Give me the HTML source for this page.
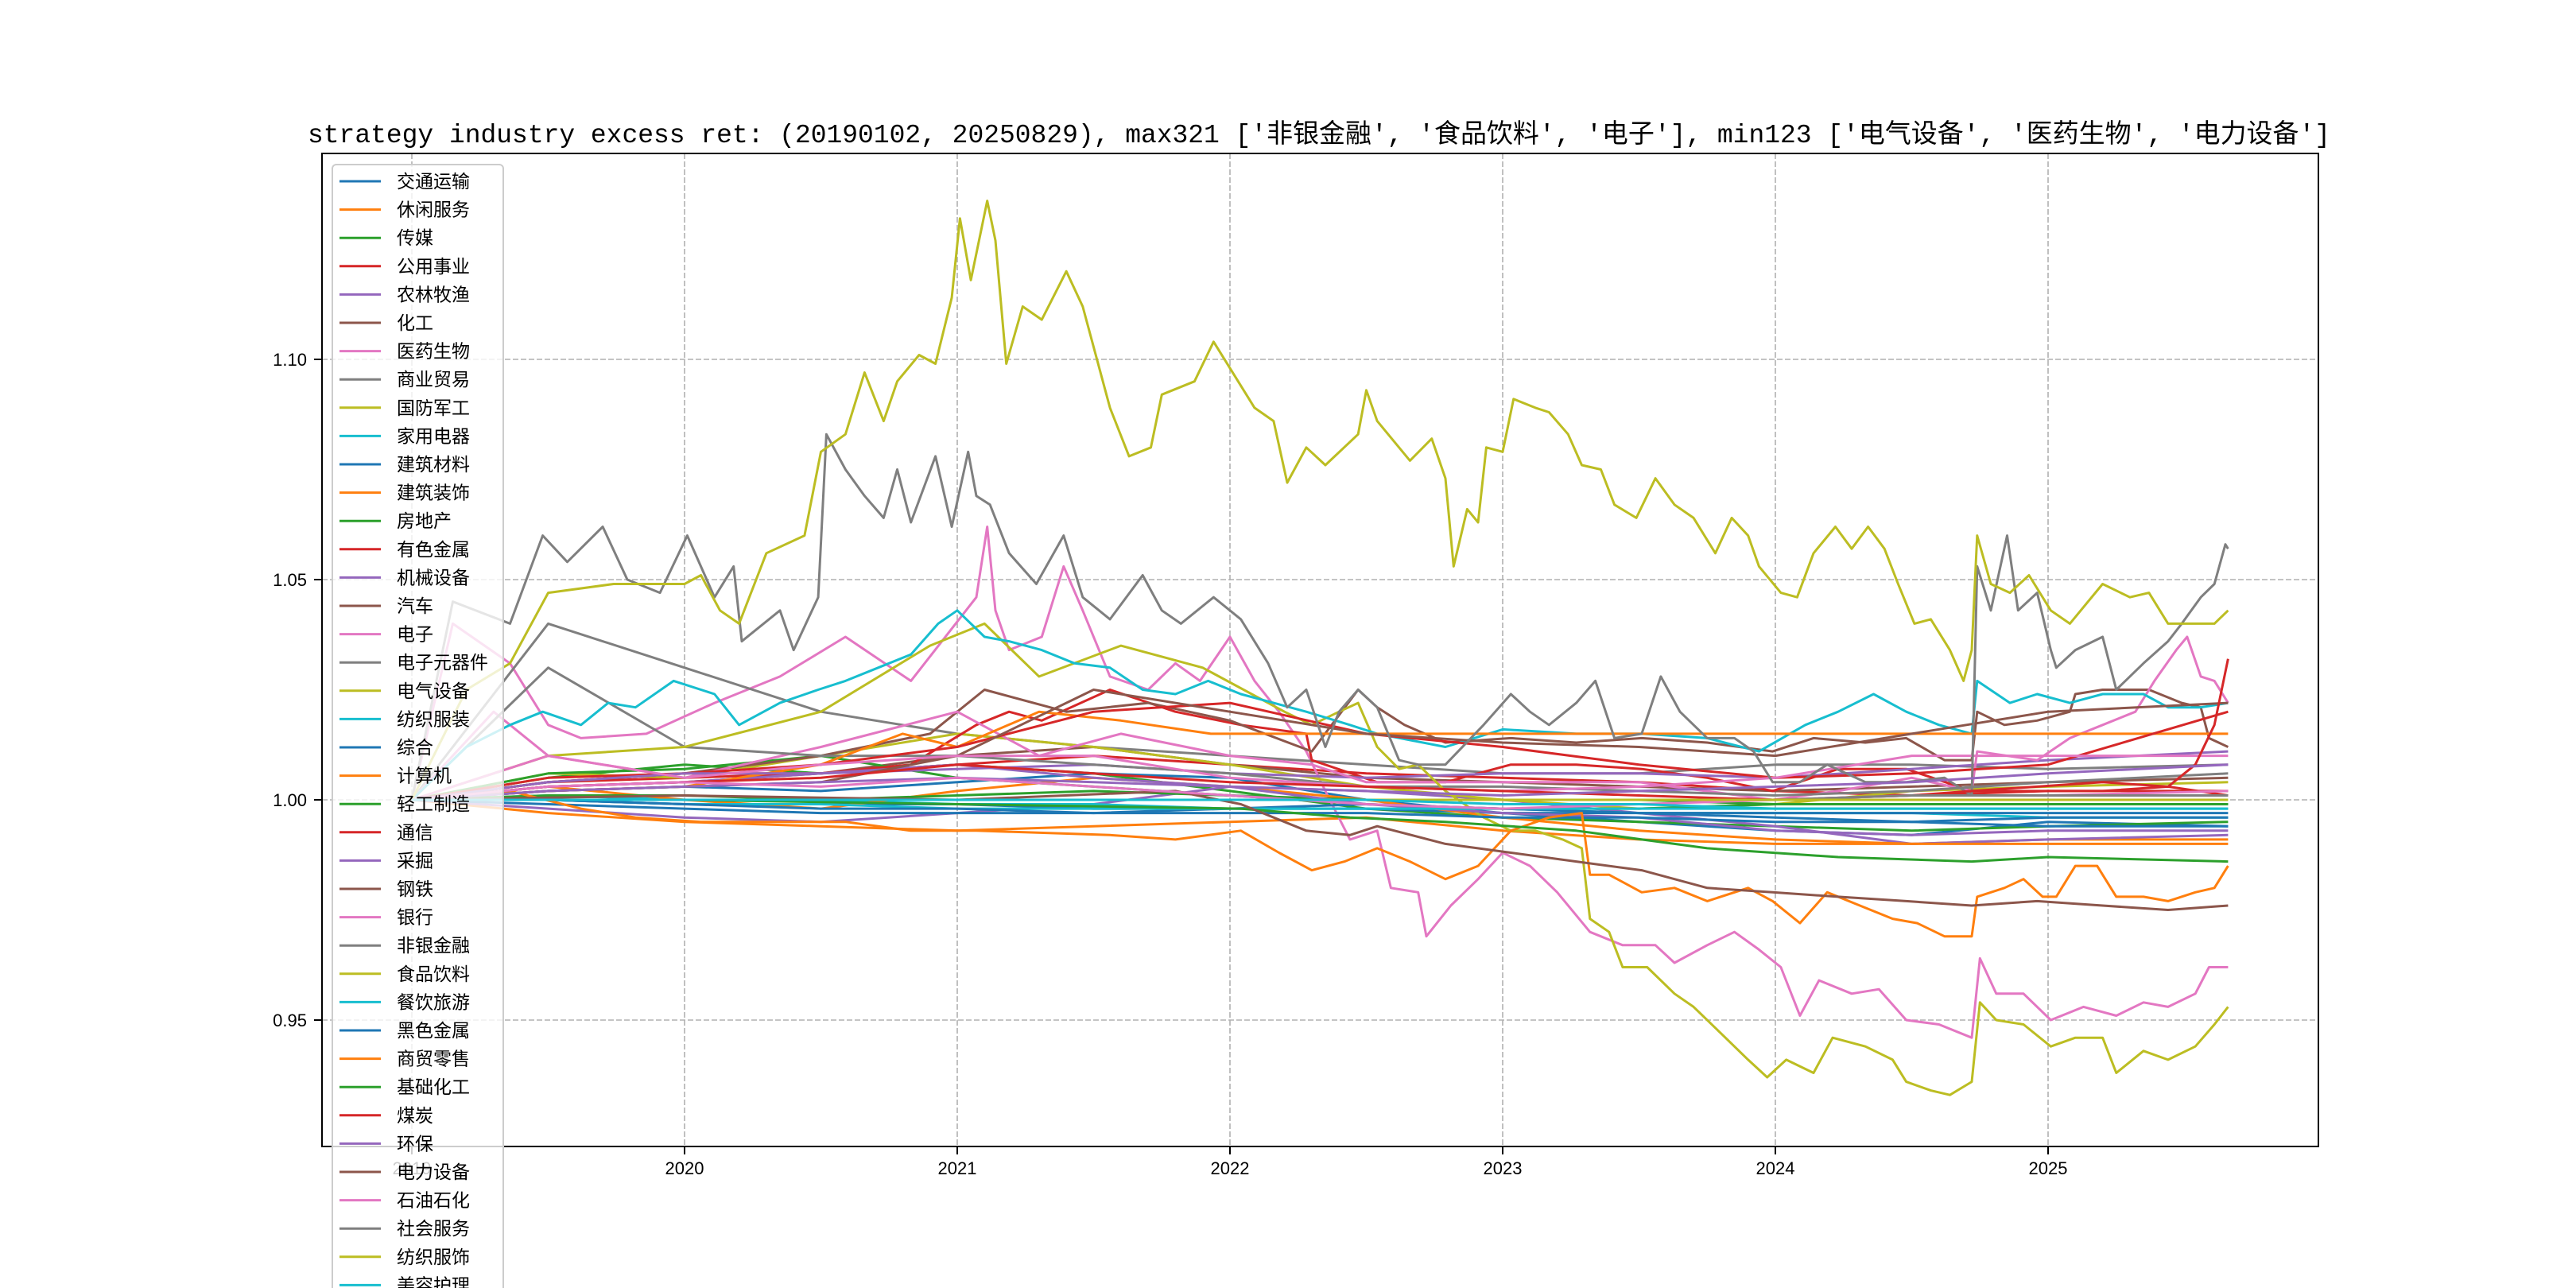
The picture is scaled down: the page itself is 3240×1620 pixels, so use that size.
<!DOCTYPE html>
<html><head><meta charset="utf-8">
<style>
html,body{margin:0;padding:0;background:#fff;}
svg{display:block;}
</style></head>
<body>
<svg id="chart" width="3240" height="1620" viewBox="0 0 3240 1620" xmlns="http://www.w3.org/2000/svg">
<defs><clipPath id="plotclip"><rect x="405" y="193" width="2511" height="1249"/></clipPath></defs>
<rect x="0" y="0" width="3240" height="1620" fill="#fff"/>
<text x="1659" y="179" text-anchor="middle" font-size="33" textLength="2544" lengthAdjust="spacingAndGlyphs" font-family="'Liberation Mono','Noto Sans CJK SC',monospace" fill="#000">strategy industry excess ret: (20190102, 20250829), max321 ['非银金融', '食品饮料', '电子'], min123 ['电气设备', '医药生物', '电力设备']</text>
<g id="grid"></g>
<g id="series" clip-path="url(#plotclip)"></g>
<rect x="405" y="193" width="2511" height="1249" fill="none" stroke="#000" stroke-width="2"/>
<g id="ticks"></g>
<g id="legend"></g>
</svg>
<script>
const names = ['交通运输','休闲服务','传媒','公用事业','农林牧渔','化工','医药生物','商业贸易','国防军工','家用电器','建筑材料','建筑装饰','房地产','有色金属','机械设备','汽车','电子','电子元器件','电气设备','纺织服装','综合','计算机','轻工制造','通信','采掘','钢铁','银行','非银金融','食品饮料','餐饮旅游','黑色金属','商贸零售','基础化工','煤炭','环保','电力设备','石油石化','社会服务','纺织服饰','美容护理'];
const xTickYears = [2019,2020,2021,2022,2023,2024,2025];
const xTickLabels = ['2019','2020','2021','2022','2023','2024','2025'];
const yTickValues = [0.95,1.00,1.05,1.10];
const yTickLabels = ['0.95','1.00','1.05','1.10'];
const gridYears = [2019.0,2019.5,2020,2020.5,2021,2021.5,2022,2022.5,2023,2023.5,2024,2024.5,2025,2025.66];
const minorValues = {
0:[1,1.002,1.003,1.002,1.004,1.006,1.005,1.0,0.997,0.995,0.993,0.992,0.995,0.994],
1:[1,0.997,0.995,0.994,0.993,0.994,0.995,0.996,0.993,0.991,0.990,0.990,0.991,0.991],
2:[1,1.005,1.008,1.006,1.008,1.006,1.002,0.998,0.996,0.995,0.994,0.993,0.994,0.995],
3:[1,1.004,1.005,1.006,1.008,1.01,1.008,1.006,1.005,1.004,1.002,1.001,1.002,1.002],
4:[1,0.998,0.996,0.995,0.997,0.999,1.003,1.002,1.0,0.997,0.994,0.990,0.991,0.992],
5:[1,1.003,1.004,1.006,1.01,1.012,1.008,1.005,1.004,1.003,1.002,1.003,1.004,1.005],
7:[1,1.04,1.03,1.02,1.015,1.012,1.01,1.008,1.006,1.006,1.008,1.008,1.007,1.008],
8:[1,1.006,1.005,1.01,1.015,1.012,1.008,1.003,1.0,0.998,0.999,1.002,1.003,1.004],
9:[1,1.001,1.0,1.0,0.999,0.999,0.998,0.998,0.998,0.997,0.997,0.997,0.996,0.996],
10:[1,1.0,0.999,0.999,0.999,0.998,0.998,0.998,0.997,0.997,0.997,0.997,0.997,0.997],
11:[1,1.003,1.0,0.998,1.002,1.005,1.003,1.0,0.996,0.993,0.991,0.990,0.990,0.990],
12:[1,1.006,1.007,1.01,1.005,1.003,1.001,0.999,0.998,0.998,0.999,0.999,0.999,0.999],
14:[1,1.003,1.004,1.006,1.007,1.008,1.006,1.005,1.006,1.006,1.005,1.007,1.009,1.011],
17:[1,1.03,1.012,1.01,1.01,1.008,1.006,1.003,1.003,1.002,1.001,1.002,1.004,1.006],
20:[1,0.999,0.998,0.997,0.997,0.997,0.998,0.999,0.998,0.997,0.996,0.995,0.994,0.994],
22:[1,1.001,1.001,1.0,1.001,1.002,1.001,1.0,1.0,1.0,0.999,0.999,0.999,0.999],
23:[1,1.005,1.006,1.008,1.012,1.02,1.022,1.015,1.012,1.008,1.005,1.006,1.008,1.02],
24:[1,1.004,1.006,1.006,1.008,1.005,1.003,0.999,0.997,0.996,0.993,0.992,0.993,0.993],
25:[1,1.002,1.003,1.004,1.01,1.025,1.02,1.015,1.013,1.012,1.01,1.015,1.02,1.022],
26:[1,1.01,1.005,1.008,1.01,1.01,1.005,1.003,1.002,1.003,1.005,1.01,1.01,1.01],
29:[1,1.0,0.999,0.999,0.998,0.998,0.998,0.998,0.998,0.998,0.998,0.998,0.998,0.998],
30:[1,1.0,0.999,0.998,0.998,0.997,0.997,0.997,0.996,0.996,0.995,0.995,0.996,0.996],
34:[1,1.002,1.003,1.004,1.005,1.004,1.003,1.002,1.001,1.002,1.003,1.004,1.006,1.008],
36:[1,1.003,1.004,1.003,1.005,1.003,1.001,0.999,0.998,0.999,1.0,1.001,1.001,1.002],
37:[1,1.0,1.0,1.0,1.0,1.0,1.0,1.0,1.0,1.0,1.0,1.001,1.001,1.001],
38:[1,1.0,1.0,1.0,1.0,1.0,1.0,1.0,1.0,1.0,1.0,1.0,1.0,1.0],
39:[1,1.0,1.0,1.0,1.0,1.0,1.0,1.0,0.999,0.999,0.998,0.998,0.998,0.998]
};
const foodYears = [2019.0,2019.2,2019.36,2019.5,2019.74,2020.0,2020.06,2020.13,2020.2,2020.3,2020.44,2020.5,2020.59,2020.66,2020.73,2020.78,2020.86,2020.92,2020.98,2021.01,2021.05,2021.11,2021.14,2021.18,2021.24,2021.31,2021.4,2021.46,2021.56,2021.63,2021.71,2021.75,2021.87,2021.94,2022.0,2022.09,2022.16,2022.21,2022.28,2022.35,2022.47,2022.5,2022.54,2022.66,2022.74,2022.79,2022.82,2022.87,2022.91,2022.94,2023.0,2023.04,2023.12,2023.17,2023.24,2023.29,2023.36,2023.41,2023.49,2023.56,2023.63,2023.7,2023.78,2023.84,2023.9,2023.94,2024.02,2024.08,2024.14,2024.22,2024.28,2024.34,2024.4,2024.45,2024.51,2024.57,2024.64,2024.69,2024.72,2024.74,2024.79,2024.86,2024.93,2025.01,2025.08,2025.2,2025.3,2025.37,2025.44,2025.54,2025.61,2025.66];
const foodValues = [1.0,1.025,1.031,1.047,1.049,1.049,1.051,1.043,1.040,1.056,1.060,1.079,1.083,1.097,1.086,1.095,1.101,1.099,1.114,1.132,1.118,1.136,1.127,1.099,1.112,1.109,1.120,1.112,1.089,1.078,1.080,1.092,1.095,1.104,1.098,1.089,1.086,1.072,1.080,1.076,1.083,1.093,1.086,1.077,1.082,1.073,1.053,1.066,1.063,1.080,1.079,1.091,1.089,1.088,1.083,1.076,1.075,1.067,1.064,1.073,1.067,1.064,1.056,1.064,1.060,1.053,1.047,1.046,1.056,1.062,1.057,1.062,1.057,1.049,1.040,1.041,1.034,1.027,1.034,1.060,1.049,1.047,1.051,1.043,1.040,1.049,1.046,1.047,1.040,1.040,1.040,1.043];
const finYears = [2019.0,2019.15,2019.36,2019.48,2019.57,2019.7,2019.79,2019.91,2020.01,2020.11,2020.18,2020.21,2020.35,2020.4,2020.49,2020.52,2020.59,2020.66,2020.73,2020.78,2020.83,2020.92,2020.98,2021.04,2021.07,2021.12,2021.19,2021.29,2021.39,2021.46,2021.56,2021.68,2021.75,2021.82,2021.94,2022.04,2022.14,2022.21,2022.28,2022.35,2022.4,2022.47,2022.54,2022.62,2022.69,2022.79,2022.93,2023.03,2023.1,2023.17,2023.27,2023.34,2023.41,2023.51,2023.58,2023.65,2023.75,2023.85,2023.92,2023.99,2024.09,2024.19,2024.33,2024.48,2024.62,2024.72,2024.74,2024.79,2024.85,2024.89,2024.96,2025.01,2025.03,2025.1,2025.2,2025.25,2025.35,2025.44,2025.49,2025.56,2025.61,2025.65,2025.66];
const finValues = [1.0,1.045,1.040,1.060,1.054,1.062,1.050,1.047,1.060,1.046,1.053,1.036,1.043,1.034,1.046,1.083,1.075,1.069,1.064,1.075,1.063,1.078,1.062,1.079,1.069,1.067,1.056,1.049,1.060,1.046,1.041,1.051,1.043,1.040,1.046,1.041,1.031,1.021,1.025,1.012,1.020,1.025,1.021,1.009,1.008,1.008,1.017,1.024,1.020,1.017,1.022,1.027,1.014,1.015,1.028,1.020,1.014,1.014,1.011,1.004,1.004,1.008,1.004,1.004,1.005,1.001,1.053,1.043,1.060,1.043,1.047,1.034,1.030,1.034,1.037,1.025,1.031,1.036,1.040,1.046,1.049,1.058,1.057];
const medYears = [2019.0,2019.15,2019.36,2019.5,2019.62,2019.86,2020.11,2020.35,2020.59,2020.83,2021.07,2021.11,2021.14,2021.19,2021.31,2021.39,2021.46,2021.56,2021.7,2021.8,2021.89,2022.0,2022.09,2022.18,2022.28,2022.35,2022.44,2022.54,2022.59,2022.69,2022.72,2022.81,2022.91,2023.0,2023.1,2023.2,2023.32,2023.44,2023.56,2023.63,2023.75,2023.85,2023.94,2024.02,2024.09,2024.16,2024.28,2024.38,2024.48,2024.6,2024.72,2024.75,2024.81,2024.91,2025.01,2025.13,2025.25,2025.35,2025.44,2025.54,2025.59,2025.66];
const medValues = [1.0,1.04,1.031,1.017,1.014,1.015,1.022,1.028,1.037,1.027,1.046,1.062,1.043,1.034,1.037,1.053,1.043,1.028,1.025,1.031,1.027,1.037,1.027,1.020,1.011,1.002,0.991,0.993,0.980,0.979,0.969,0.976,0.982,0.988,0.985,0.979,0.970,0.967,0.967,0.963,0.967,0.970,0.966,0.962,0.951,0.959,0.956,0.957,0.950,0.949,0.946,0.964,0.956,0.956,0.950,0.953,0.951,0.954,0.953,0.956,0.962,0.962];
const elecYears = [2019.0,2019.3,2019.5,2020.0,2020.5,2021.0,2021.3,2021.6,2022.0,2022.3,2022.5,2023.0,2023.5,2023.99,2024.23,2024.5,2024.72,2024.74,2024.96,2025.08,2025.2,2025.32,2025.39,2025.47,2025.51,2025.56,2025.61,2025.66];
const elecValues = [1.0,1.02,1.01,1.005,1.012,1.02,1.01,1.015,1.01,1.008,1.004,1.004,1.004,1.0,1.002,1.005,1.002,1.011,1.009,1.014,1.017,1.020,1.027,1.034,1.037,1.028,1.027,1.022];
const eqYears = [2019.0,2019.5,2020.0,2020.5,2020.9,2021.1,2021.3,2021.6,2021.9,2022.2,2022.3,2022.4,2022.47,2022.54,2022.62,2022.69,2022.79,2022.93,2023.03,2023.12,2023.22,2023.29,2023.32,2023.39,2023.44,2023.53,2023.63,2023.7,2023.8,2023.9,2023.97,2024.04,2024.14,2024.21,2024.33,2024.43,2024.48,2024.57,2024.64,2024.72,2024.75,2024.81,2024.91,2025.01,2025.1,2025.2,2025.25,2025.35,2025.44,2025.54,2025.61,2025.66];
const eqValues = [1.0,1.01,1.012,1.02,1.035,1.04,1.028,1.035,1.03,1.02,1.017,1.020,1.022,1.012,1.007,1.008,1.002,0.996,0.993,0.993,0.991,0.989,0.973,0.970,0.962,0.962,0.956,0.953,0.947,0.941,0.937,0.941,0.938,0.946,0.944,0.941,0.936,0.934,0.933,0.936,0.954,0.950,0.949,0.944,0.946,0.946,0.938,0.943,0.941,0.944,0.949,0.953];
const texYears = [2019.0,2019.2,2019.36,2019.48,2019.62,2019.72,2019.82,2019.96,2020.11,2020.2,2020.35,2020.49,2020.59,2020.71,2020.83,2020.93,2021.0,2021.1,2021.19,2021.31,2021.43,2021.56,2021.68,2021.8,2021.92,2022.04,2022.16,2022.28,2022.44,2022.54,2022.79,2023.0,2023.27,2023.51,2023.75,2023.94,2024.11,2024.23,2024.36,2024.48,2024.6,2024.72,2024.74,2024.86,2024.96,2025.08,2025.2,2025.35,2025.44,2025.56,2025.66];
const texValues = [1.0,1.012,1.017,1.020,1.017,1.022,1.021,1.027,1.024,1.017,1.022,1.025,1.027,1.030,1.033,1.040,1.043,1.037,1.036,1.034,1.031,1.030,1.025,1.024,1.027,1.024,1.022,1.020,1.017,1.015,1.012,1.016,1.015,1.015,1.014,1.011,1.017,1.020,1.024,1.020,1.017,1.015,1.027,1.022,1.024,1.022,1.024,1.024,1.021,1.021,1.022];
const compYears = [2019.0,2019.5,2020.0,2020.5,2020.8,2021.0,2021.3,2021.6,2021.93,2025.66];
const compValues = [1.0,1.002,1.003,1.008,1.015,1.012,1.02,1.018,1.015,1.015];
const powYears = [2019.0,2020,2021,2021.8,2022.04,2022.28,2022.44,2022.54,2022.79,2023.03,2023.27,2023.51,2023.75,2023.99,2024.23,2024.48,2024.72,2024.96,2025.2,2025.44,2025.66];
const powValues = [1.0,1.001,1.0,1.002,0.999,0.993,0.992,0.994,0.990,0.988,0.986,0.984,0.980,0.979,0.978,0.977,0.976,0.977,0.976,0.975,0.976];
const retYears = [2019.0,2019.36,2019.62,2019.82,2020.06,2020.23,2020.59,2020.83,2021.07,2021.56,2021.8,2022.04,2022.18,2022.3,2022.42,2022.54,2022.66,2022.79,2022.91,2023.03,2023.17,2023.29,2023.32,2023.39,2023.51,2023.63,2023.75,2023.9,2023.99,2024.09,2024.19,2024.31,2024.43,2024.52,2024.62,2024.72,2024.74,2024.84,2024.91,2024.98,2025.03,2025.1,2025.18,2025.25,2025.35,2025.44,2025.54,2025.61,2025.66];
const retValues = [1.0,1.002,0.998,0.996,0.995,0.995,0.995,0.993,0.993,0.992,0.991,0.993,0.988,0.984,0.986,0.989,0.986,0.982,0.985,0.993,0.996,0.997,0.983,0.983,0.979,0.980,0.977,0.980,0.977,0.972,0.979,0.976,0.973,0.972,0.969,0.969,0.978,0.980,0.982,0.978,0.978,0.985,0.985,0.978,0.978,0.977,0.979,0.980,0.985];
const chemYears = [2019.0,2020,2021,2022.04,2022.44,2022.79,2023.27,2023.75,2023.99,2024.23,2024.72,2025.0,2025.66];
const chemValues = [1.0,1.0,0.999,0.998,0.996,0.995,0.993,0.989,0.988,0.987,0.986,0.987,0.986];
const coalYears = [2019,2019.5,2020,2020.5,2021,2021.5,2022,2022.5,2023,2023.5,2023.99,2024.5,2024.72,2025.2,2025.44,2025.54,2025.61,2025.66];
const coalValues = [1.0,1.003,1.004,1.005,1.008,1.006,1.004,1.003,1.002,1.001,1.0,1.001,1.002,1.004,1.003,1.008,1.017,1.032];
const metalYears = [2019,2019.5,2020,2020.5,2020.83,2021.07,2021.19,2021.31,2021.56,2021.8,2022.04,2022.28,2022.3,2022.54,2022.79,2023.03,2023.27,2023.51,2023.75,2023.99,2024.23,2024.48,2024.72,2024.96,2025.2,2025.44,2025.66];
const metalValues = [1.0,1.004,1.006,1.006,1.008,1.017,1.020,1.018,1.025,1.020,1.017,1.015,1.009,1.004,1.004,1.008,1.008,1.007,1.005,1.002,1.007,1.007,1.002,1.002,1.002,1.003,1.001];
const autoYears = [2019,2019.5,2020,2020.5,2020.9,2021.1,2021.4,2021.7,2022.0,2022.3,2022.47,2022.54,2022.64,2022.79,2023.03,2023.27,2023.51,2023.75,2023.99,2024.14,2024.33,2024.48,2024.62,2024.72,2024.74,2024.84,2024.96,2025.08,2025.1,2025.2,2025.37,2025.49,2025.56,2025.59,2025.66];
const autoValues = [1.0,1.004,1.006,1.01,1.015,1.025,1.02,1.022,1.018,1.011,1.025,1.021,1.017,1.013,1.014,1.013,1.014,1.013,1.011,1.014,1.013,1.014,1.009,1.009,1.020,1.017,1.018,1.020,1.024,1.025,1.025,1.022,1.021,1.014,1.012];

const colors = ['#1f77b4','#ff7f0e','#2ca02c','#d62728','#9467bd','#8c564b','#e377c2','#7f7f7f','#bcbd22','#17becf'];
const X = yr => 861 + (yr - 2020) * 343;
const Y = v => 1006 - (v - 1) * 5540;
const NS = 'http://www.w3.org/2000/svg';

const seriesData = {};
for (const k in minorValues) seriesData[k] = [gridYears, minorValues[k]];
seriesData[28] = [foodYears, foodValues];
seriesData[27] = [finYears, finValues];
seriesData[6] = [medYears, medValues];
seriesData[16] = [elecYears, elecValues];
seriesData[18] = [eqYears, eqValues];
seriesData[19] = [texYears, texValues];
seriesData[21] = [compYears, compValues];
seriesData[35] = [powYears, powValues];
seriesData[31] = [retYears, retValues];
seriesData[32] = [chemYears, chemValues];
seriesData[33] = [coalYears, coalValues];
seriesData[13] = [metalYears, metalValues];
seriesData[15] = [autoYears, autoValues];

// grid
const grid = document.getElementById('grid');
xTickYears.forEach((yr, i) => {
  const l = document.createElementNS(NS, 'line');
  l.setAttribute('x1', X(yr)); l.setAttribute('x2', X(yr));
  l.setAttribute('y1', 193); l.setAttribute('y2', 1442);
  l.setAttribute('stroke', '#b0b0b0'); l.setAttribute('stroke-width', '1.6'); l.setAttribute('stroke-dasharray', '7,3');
  
  
  grid.appendChild(l);
});
yTickValues.forEach((v, i) => {
  const l = document.createElementNS(NS, 'line');
  l.setAttribute('x1', 405); l.setAttribute('x2', 2916);
  l.setAttribute('y1', Y(v)); l.setAttribute('y2', Y(v));
  l.setAttribute('stroke', '#b0b0b0'); l.setAttribute('stroke-width', '1.6'); l.setAttribute('stroke-dasharray', '7,3');
  
  
  grid.appendChild(l);
});

// series
const sg = document.getElementById('series');
for (let i = 0; i < names.length; i++) {
  const d = seriesData[i];
  if (!d) continue;
  const pts = d[0].map((yr, j) => X(yr).toFixed(1) + ',' + Y(d[1][j]).toFixed(1)).join(' ');
  const p = document.createElementNS(NS, 'polyline');
  p.setAttribute('points', pts);
  p.setAttribute('fill', 'none');
  p.setAttribute('stroke', colors[i % 10]);
  p.setAttribute('stroke-width', '3');
  p.setAttribute('stroke-linejoin', 'round');
  
  
  sg.appendChild(p);
}

// ticks
const tg = document.getElementById('ticks');
xTickYears.forEach((yr, i) => {
  const l = document.createElementNS(NS, 'line');
  l.setAttribute('x1', X(yr)); l.setAttribute('x2', X(yr));
  l.setAttribute('y1', 1442); l.setAttribute('y2', 1452);
  l.setAttribute('stroke', '#000'); l.setAttribute('stroke-width', '2');
  
  
  tg.appendChild(l);
  const t = document.createElementNS(NS, 'text');
  t.setAttribute('x', X(yr)); t.setAttribute('y', 1477);
  t.setAttribute('text-anchor', 'middle'); t.setAttribute('font-size', '22');
  t.setAttribute('font-family', "'Liberation Sans','Noto Sans CJK SC',sans-serif");
  t.textContent = xTickLabels[i];
  
  
  tg.appendChild(t);
});
yTickValues.forEach((v, i) => {
  const l = document.createElementNS(NS, 'line');
  l.setAttribute('x1', 395); l.setAttribute('x2', 405);
  l.setAttribute('y1', Y(v)); l.setAttribute('y2', Y(v));
  l.setAttribute('stroke', '#000'); l.setAttribute('stroke-width', '2');
  
  
  tg.appendChild(l);
  const t = document.createElementNS(NS, 'text');
  t.setAttribute('x', 386); t.setAttribute('y', Y(v) + 8);
  t.setAttribute('text-anchor', 'end'); t.setAttribute('font-size', '22');
  t.setAttribute('font-family', "'Liberation Sans','Noto Sans CJK SC',sans-serif");
  t.textContent = yTickLabels[i];
  
  
  tg.appendChild(t);
});

// legend
const lg = document.getElementById('legend');


const box = document.createElementNS(NS, 'rect');
box.setAttribute('x', 418); box.setAttribute('y', 207);
box.setAttribute('width', 215); box.setAttribute('height', 1460);
box.setAttribute('rx', 5);
box.setAttribute('fill', 'rgba(255,255,255,0.8)'); box.setAttribute('stroke', '#cccccc'); box.setAttribute('stroke-width', '2');


lg.appendChild(box);
names.forEach((n, i) => {
  const cy = 228 + i * 35.6;
  const g = document.createElementNS(NS, 'g');
  
  
  const l = document.createElementNS(NS, 'line');
  l.setAttribute('x1', 427); l.setAttribute('x2', 479);
  l.setAttribute('y1', cy); l.setAttribute('y2', cy);
  l.setAttribute('stroke', colors[i % 10]); l.setAttribute('stroke-width', '3');
  g.appendChild(l);
  const t = document.createElementNS(NS, 'text');
  t.setAttribute('x', 499); t.setAttribute('y', cy + 8);
  t.setAttribute('font-size', '23');
  t.setAttribute('font-family', "'Liberation Sans','Noto Sans CJK SC',sans-serif");
  t.textContent = n;
  g.appendChild(t);
  lg.appendChild(g);
});
</script>
</body></html>
